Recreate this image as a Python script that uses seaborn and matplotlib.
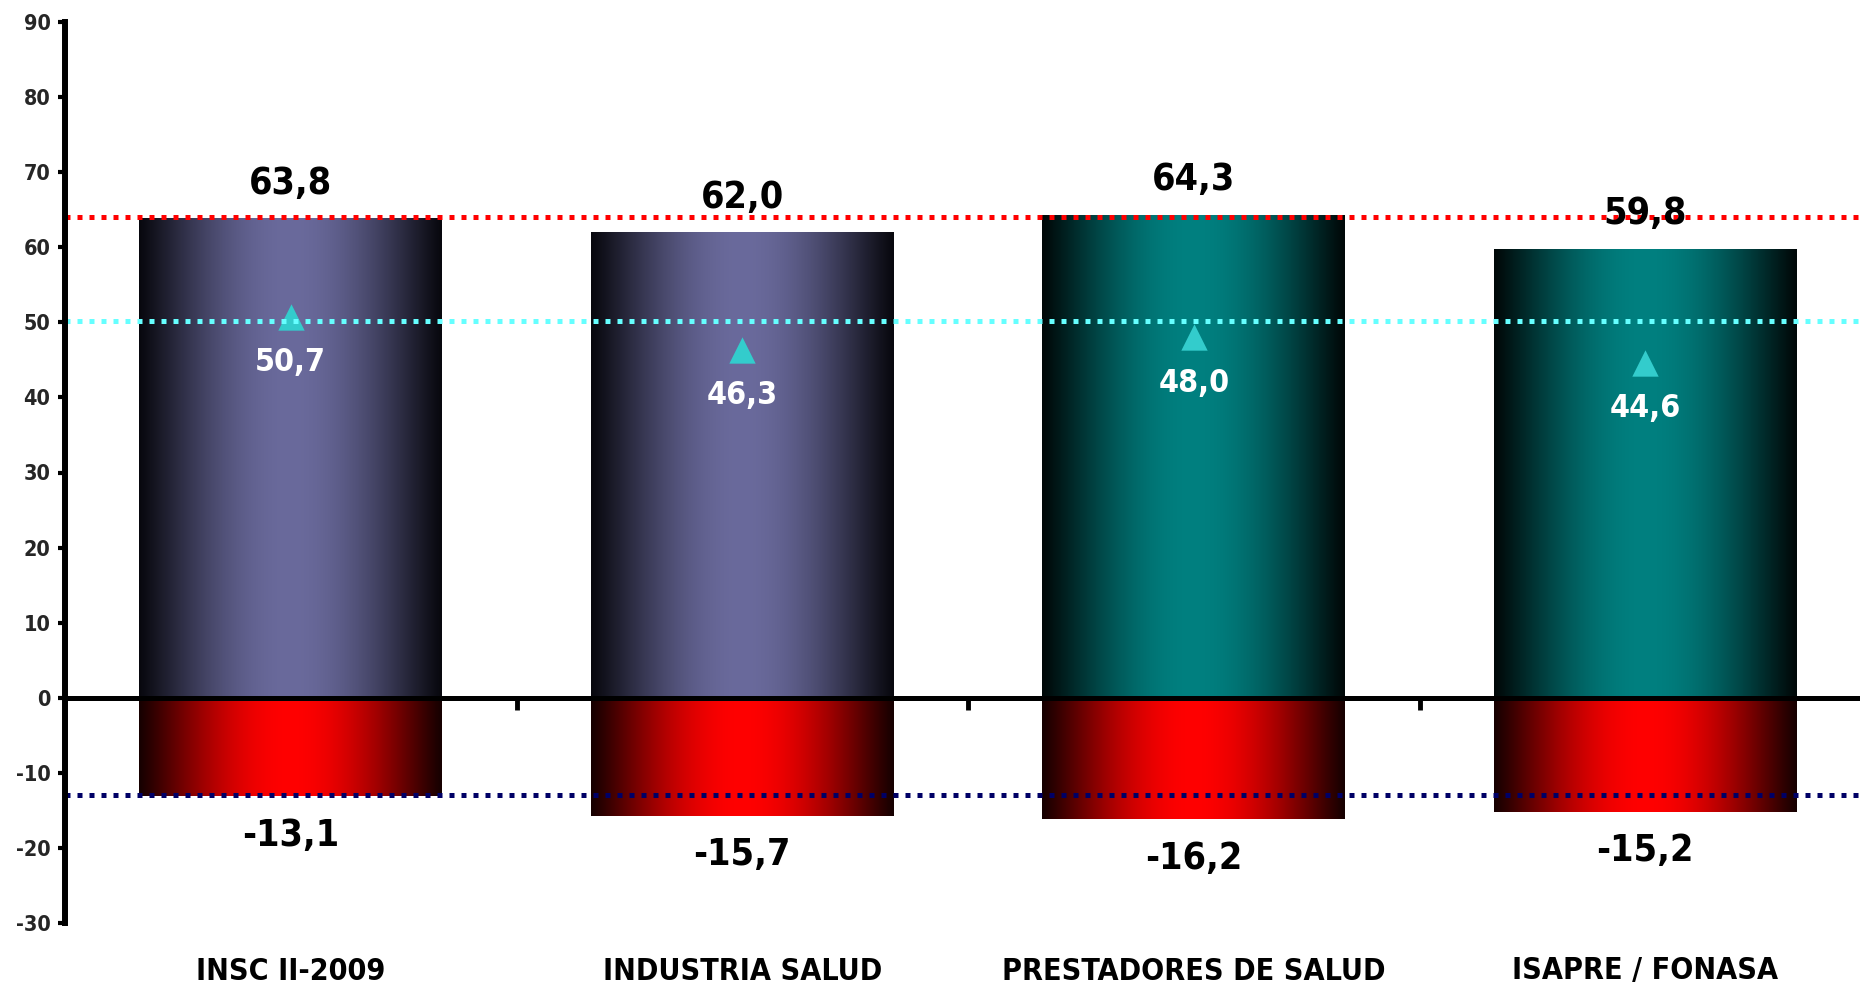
import numpy as np
import pandas as pd
import matplotlib
matplotlib.use("Agg")
import matplotlib.pyplot as plt
import matplotlib.transforms as mtransforms
from matplotlib.colors import to_rgb
import seaborn as sns

# Data
categories = ["INSC II-2009", "INDUSTRIA SALUD", "PRESTADORES DE SALUD", "ISAPRE / FONASA"]
positive = [63.8, 62.0, 64.3, 59.8]
negative = [-13.1, -15.7, -16.2, -15.2]
net = [50.7, 46.3, 48.0, 44.6]
ref_positive = 64.0
ref_net = 50.2
ref_negative = -13.0
y_ticks = list(range(-30, 91, 10))

sns.set_theme(style="white")
plt.rcParams["font.family"] = ["DejaVu Sans"]
plt.rcParams["font.stretch"] = "condensed"
plt.rcParams["axes.unicode_minus"] = False

fig = plt.figure(figsize=(18.6, 9.84), dpi=100)
ax = fig.add_axes([65 / 1860, 61 / 984, 1 - 65 / 1860, 901 / 984])

df_pos = pd.DataFrame({"cat": categories, "val": positive})
df_neg = pd.DataFrame({"cat": categories, "val": negative})
sns.barplot(data=df_pos, x="cat", y="val", width=0.67, color="#6a6a9c",
            errorbar=None, ax=ax, zorder=2)
sns.barplot(data=df_neg, x="cat", y="val", width=0.67, color="#ff0000",
            errorbar=None, ax=ax, zorder=2)

# Horizontal shading on each bar (dark edges, bright centre)
purple = ("#08080e", "#6a6a9c")
teal = ("#000808", "#008080")
red = ("#160000", "#ff0000")
styles = [purple, purple, teal, teal] + [red] * 4
t = np.linspace(0, 1, 300)
prof = np.sin(np.pi * t) ** 1.1
for patch, (edge, center) in zip(ax.patches, styles):
    x0, y0 = patch.get_x(), patch.get_y()
    w, h = patch.get_width(), patch.get_height()
    e, c = np.array(to_rgb(edge)), np.array(to_rgb(center))
    img = (e + (c - e) * prof[:, None])[None, :, :]
    ax.imshow(img, extent=[x0, x0 + w, min(y0, y0 + h), max(y0, y0 + h)],
              aspect="auto", interpolation="bilinear", zorder=2.1)

# Net markers
sns.scatterplot(x=list(range(len(categories))), y=net, marker="^", s=360,
                color="#33cccc", linewidth=0, ax=ax, zorder=3)

# Reference lines
dot = (0, (1, 1.4))
ax.axhline(ref_positive, color="#ff0000", lw=3.6, ls=dot, zorder=4)
ax.axhline(ref_net, color="#66ffff", lw=3.6, ls=dot, zorder=4)
ax.axhline(ref_negative, color="#000066", lw=3.6, ls=dot, zorder=4)

ax.set_xlim(-0.5, -0.5 + (1860 - 65) / 451.5)
ax.set_ylim(-30, 90)

# Value labels
lbl = dict(ha="center", va="center", fontweight="bold", textcoords="offset points")
for i, (p, n, m) in enumerate(zip(positive, negative, net)):
    ax.annotate(f"{p:.1f}".replace(".", ","), (i, p), xytext=(0, 25), fontsize=27,
                color="black", zorder=6, **lbl)
    ax.annotate(f"{n:.1f}".replace(".", ","), (i, n), xytext=(0, -28.5), fontsize=27,
                color="black", zorder=6, **lbl)
    ax.annotate(f"{m:.1f}".replace(".", ","), (i, m), xytext=(0, -33), fontsize=23,
                color="white", zorder=6, **lbl)

# Axes styling
for s in ("top", "right"):
    ax.spines[s].set_visible(False)
ax.spines["left"].set_linewidth(4.3)
ax.spines["left"].set_color("black")
ax.spines["bottom"].set_position(("data", 0))
ax.spines["bottom"].set_linewidth(3.6)
ax.spines["bottom"].set_color("black")
for s in ax.spines.values():
    s.set_zorder(5)

ax.set_yticks(y_ticks)
ax.tick_params(axis="y", direction="out", length=5, width=3, color="black",
               labelsize=15.5, pad=5.5, left=True)
for t_lbl in ax.get_yticklabels():
    t_lbl.set_fontweight("bold")

ax.set_xticks(range(len(categories)))
ax.set_xticklabels([])
ax.tick_params(axis="x", which="major", length=0)
ax.set_xticks([0.5, 1.5, 2.5], minor=True)
ax.tick_params(axis="x", which="minor", direction="out", length=8.5, width=3.5,
               color="black", bottom=True)
ax.set_xlabel("")
ax.set_ylabel("")

trans = mtransforms.blended_transform_factory(ax.transData, fig.transFigure)
for i, cat in enumerate(categories):
    ax.text(i, 1 - 971 / 984, cat, transform=trans, ha="center", va="center",
            fontsize=21.8, fontweight="bold", color="black")

ax.set_facecolor("white")
fig.patch.set_facecolor("white")
fig.savefig("out.png", dpi=100, facecolor="white")
